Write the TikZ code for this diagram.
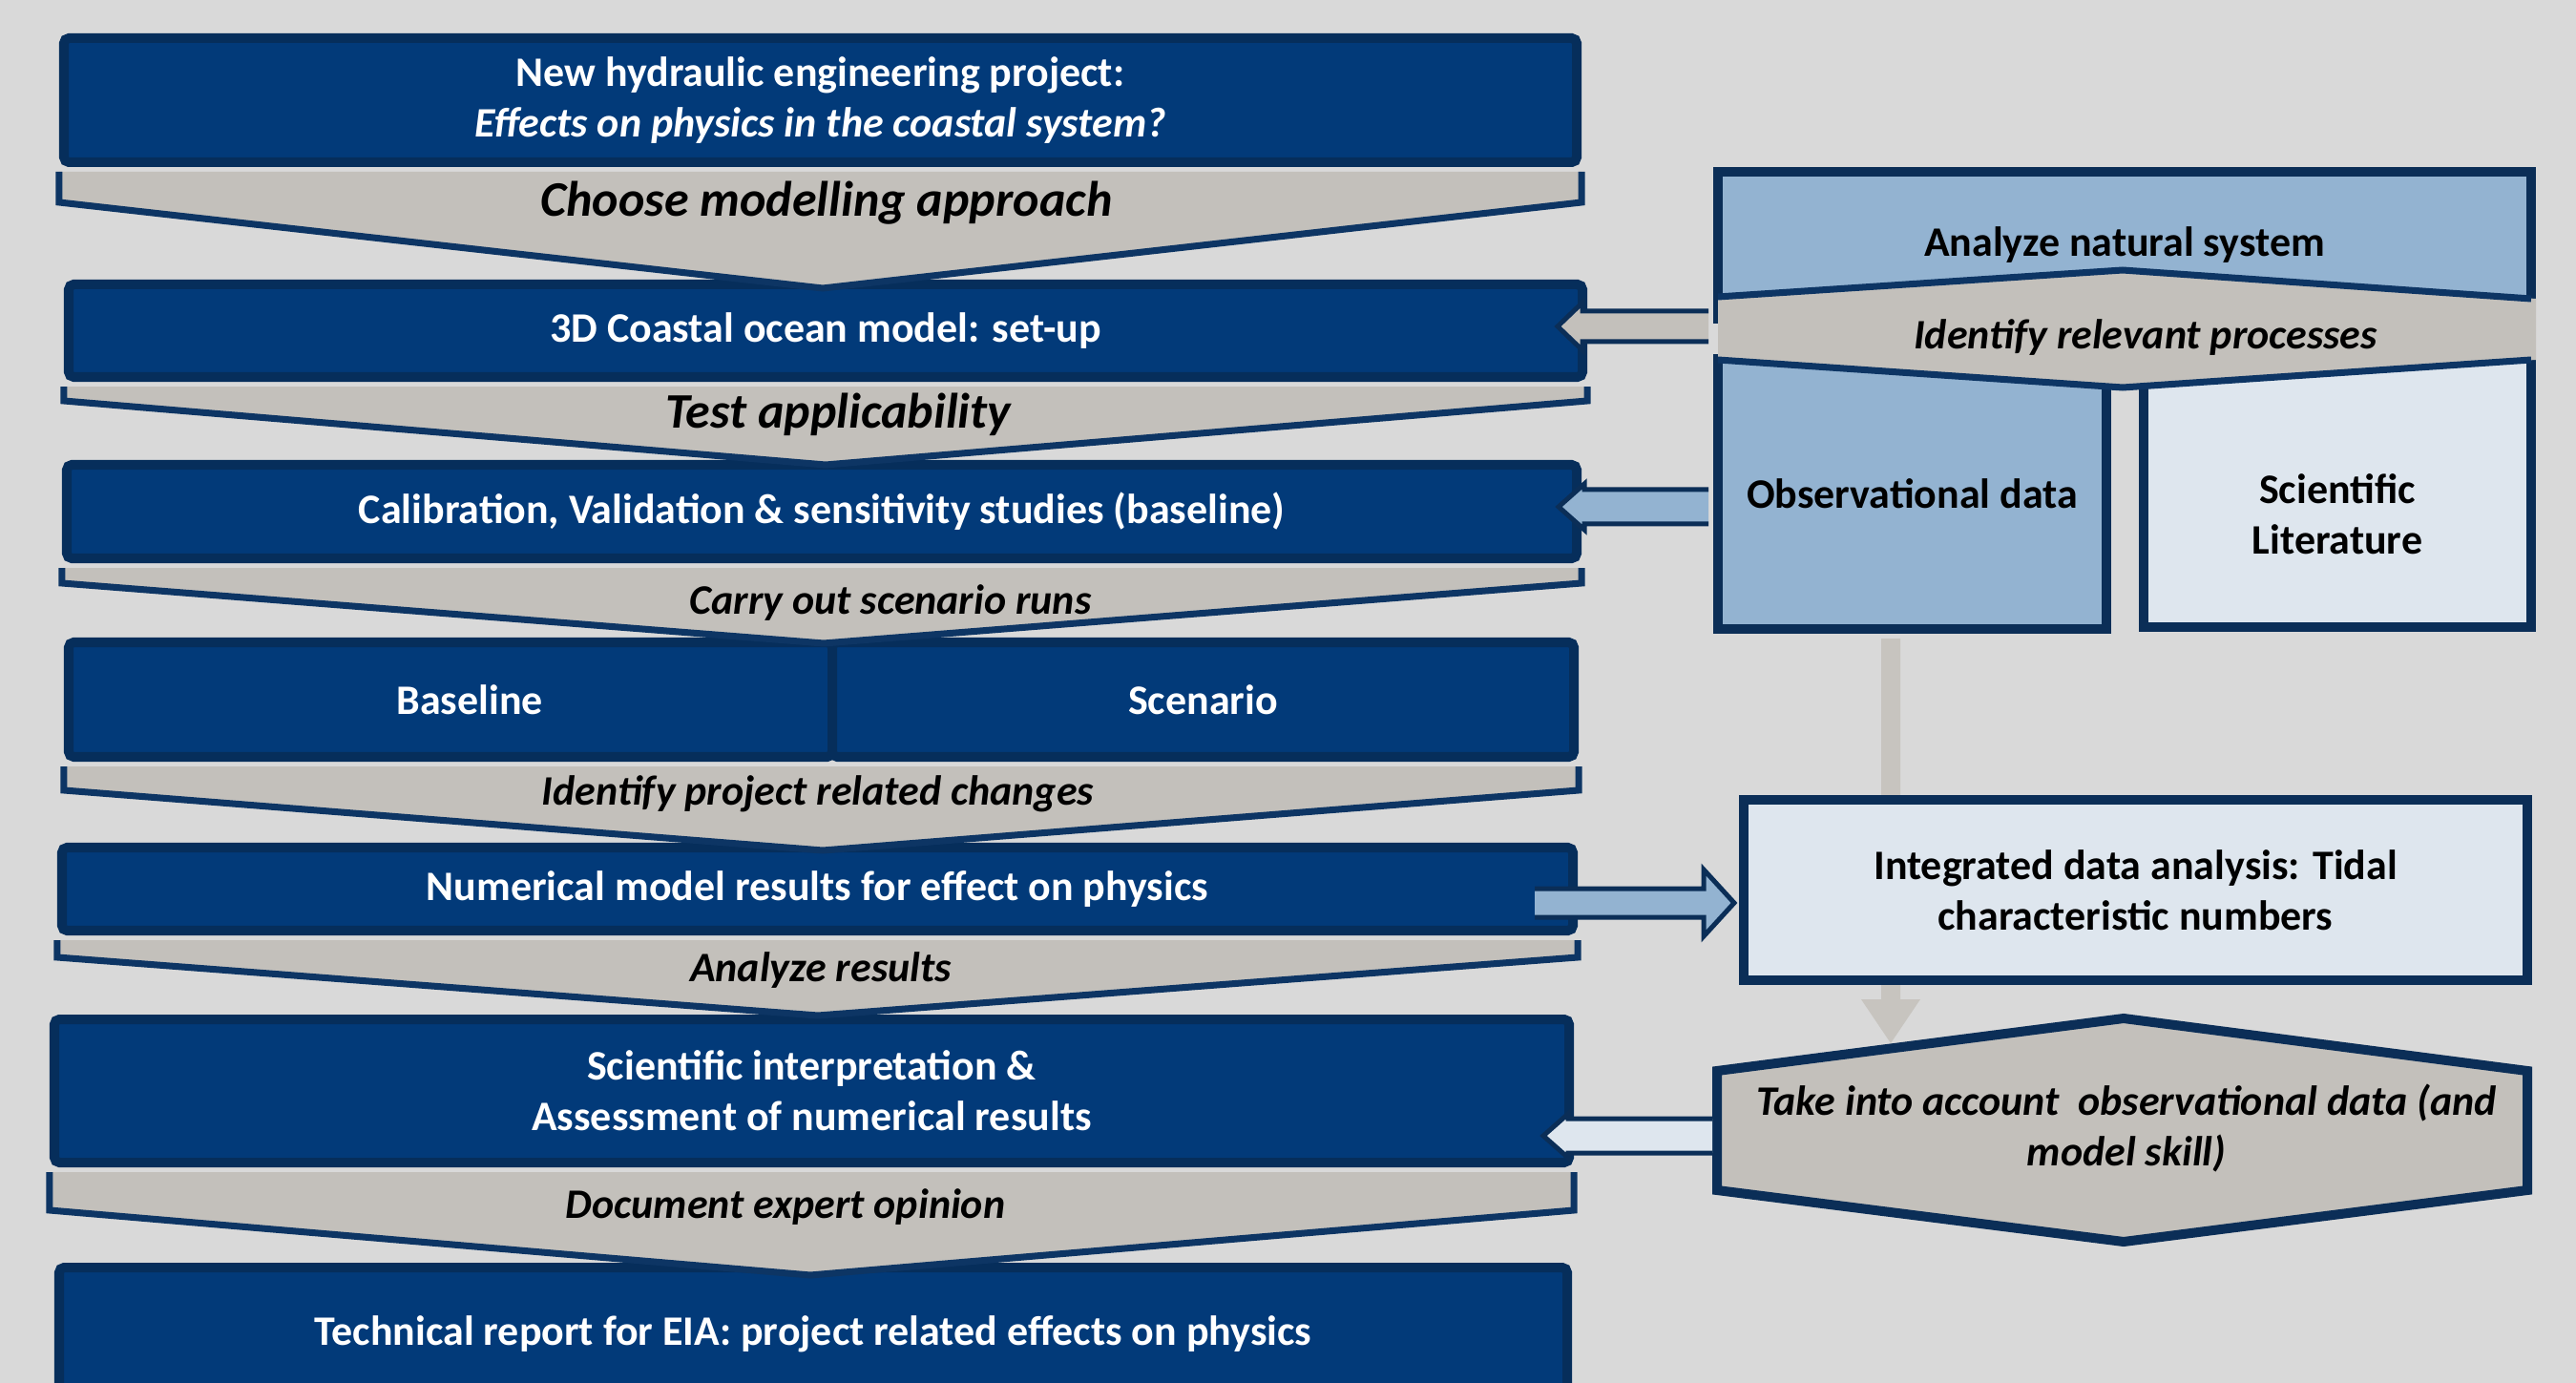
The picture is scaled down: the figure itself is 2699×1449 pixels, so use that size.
\documentclass[tikz,border=0pt]{standalone}
\usepackage{fontspec}
\setmainfont{Carlito}
\usetikzlibrary{calc}

\definecolor{bgc}{HTML}{D9D9D9}
\definecolor{boxfill}{HTML}{023A79}
\definecolor{boxline}{HTML}{062E5B}
\definecolor{chevfill}{HTML}{C3C0BB}
\definecolor{chevline}{HTML}{0D3564}
\definecolor{midblue}{HTML}{93B3D1}
\definecolor{paleblue}{HTML}{DEE6EE}
\definecolor{navy}{HTML}{0B2E57}
\definecolor{arrowgray}{HTML}{C7C4BF}

% chevron hanging below a box: left box, right box, shoulder drop, tip
\newcommand\chev[4]{%
  \coordinate (tl) at ($(#1.south west)+(0,5)$);
  \coordinate (tr) at ($(#2.south east)+(0,5)$);
  \fill[chevfill] (tl) -- ($(tl)+(0,#3)$) -- (#4) -- ($(tr)+(0,#3)$) -- (tr) -- cycle;
  \draw[chevedge] (tl) -- ($(tl)+(0,#3)$) -- (#4) -- ($(tr)+(0,#3)$) -- (tr);}

% horizontal block arrow: style, start, tip, shaft half, head half, head length (signed)
\newcommand\harrow[6]{%
  \path[#1] ($(#2)+(0,-#4)$) -- ($(#3)+(#6,-#4)$) -- ($(#3)+(#6,-#5)$) -- (#3)
    -- ($(#3)+(#6,#5)$) -- ($(#3)+(#6,#4)$) -- ($(#2)+(0,#4)$);}

\begin{document}
\begin{tikzpicture}[x=0.01cm,y=-0.01cm,
  sz/.style 2 args={minimum width=#1*0.01cm, minimum height=#2*0.01cm},
  mainfont/.style={font=\fontsize{12.5}{15.1}\selectfont\bfseries},
  bluebox/.style={draw=boxline, fill=boxfill, line width=0.1cm, rounded corners=1.5pt,
    text=white, mainfont, align=center, inner sep=0pt},
  chevedge/.style={draw=chevline, line width=0.07cm, line join=miter},
  steplabel/.style={text=black, font=\fontsize{12.5}{15.1}\selectfont\bfseries\itshape, inner sep=0pt},
  biglabel/.style={text=black, font=\fontsize{14.8}{17}\selectfont\bfseries\itshape, inner sep=0pt},
  sidebox/.style={draw=navy, line width=0.1cm, inner sep=0pt, align=center, text=black, mainfont},
  sidetext/.style={text=black, mainfont, align=center, inner sep=0pt},
  sideital/.style={text=black, font=\fontsize{12.5}{15.1}\selectfont\bfseries\itshape, align=center, inner sep=0pt},
  arrowedge/.style={draw=navy, line width=0.05cm, line join=miter}
]
\useasboundingbox (0,0) rectangle (2699,1449);
\fill[bgc] (0,0) rectangle (2699,1449);

% ---- main workflow boxes
\node[bluebox, sz={1585}{130}] (b1) at (859.5,105)
  {\rule{0pt}{9pt}New hydraulic engineering project:\\ \itshape Effects on physics in the coastal system?};
\node[bluebox, sz={1586}{97}] (b2) at (865,346.5) {3D Coastal ocean model: set-up};
\node[bluebox, sz={1582}{98}] (b3) at (861,536)
  {Calibration, Validation \& sensitivity studies (baseline)};
\node[bluebox, sz={800}{120}] (b4a) at (472,733) {\hspace*{0.4cm}Baseline};
\node[bluebox, sz={777}{120}] (b4b) at (1260.5,733) {Scenario};
\node[bluebox, sz={1583}{87}] (b5) at (856.5,931.5) {\rule{0pt}{9pt}Numerical model results for effect on physics};
\node[bluebox, sz={1587}{150}] (b6) at (850.5,1143)
  {Scientific interpretation \&\\Assessment of numerical results};
\node[bluebox, sz={1580}{140}] (b7) at (852,1398)
  {Technical report for EIA: project related effects on physics};

% ---- chevrons between the boxes
\chev{b1}{b1}{32}{862,302}
\chev{b2}{b2}{15}{865,487}
\chev{b3}{b3}{16}{863,674}
\chev{b4a}{b4b}{25}{862,891}
\chev{b5}{b5}{18}{857,1064}
\chev{b6}{b6}{40}{849,1336}

\node[biglabel] (l1) at (866,213) {Choose modelling approach};
\node[biglabel] (l2) at (878,434) {Test applicability};
\node[steplabel] (l3) at (933,632) {Carry out scenario runs};
\node[steplabel] (l4) at (857,832) {Identify project related changes};
\node[steplabel] (l5) at (860,1017) {Analyze results};
\node[steplabel] (l6) at (823,1265) {Document expert opinion};

% ---- natural system analysis
\node[sidebox, fill=midblue, sz={852}{154}] (nat) at (2226,257) {Analyze natural system};
\node[sidebox, fill=midblue, sz={407}{283}] (obs) at (2003.5,517.5) {Observational data};
\node[sidebox, fill=paleblue, sz={406}{281}] (lit) at (2449,516.5) {};
\node[sidetext] (littxt) at (2449,539) {Scientific\\Literature};
\fill[chevfill] (1800,311) -- (2224,283) -- (2657,313) -- (2657,377) -- (2224,406) -- (1800,377) -- cycle;
\draw[chevedge] (1800,311) -- (2224,283) -- (2652,313);
\draw[chevedge] (1800,377) -- (2224,406) -- (2652,377);
\node[sideital] (proc) at (2248,354) {Identify relevant processes};

% ---- observational data feeding the model skill check
\coordinate (a5t) at (1981,1093);
\fill[arrowgray] ($(obs.south -| a5t)+(-10,5)$) -- ($(a5t)+(-10,-46)$) -- ($(a5t)+(-31,-46)$)
  -- (a5t) -- ($(a5t)+(31,-46)$) -- ($(a5t)+(10,-46)$) -- ($(obs.south -| a5t)+(10,5)$) -- cycle;

\node[sidebox, fill=paleblue, sz={821}{189}] (integ) at (2237.5,932.5)
  {Integrated data analysis: Tidal\\characteristic numbers};

\coordinate (hexW) at (1799,1184.5);
\filldraw[fill=chevfill, draw=navy, line width=0.1cm, line join=miter]
  (hexW) -- (1799,1122) -- (2225,1067) -- (2648,1122) -- (2648,1247) -- (2225,1301) -- (1799,1247) -- cycle;
\node[sideital] (take) at (2228,1182)
  {Take into account~ observational data (and\\model skill)};

% ---- block arrows between the two columns
\coordinate (a1s) at ($(nat.west)+(-5,85)$);
\coordinate (a1t) at ($(b2.east |- a1s)+(-31,0)$);
\harrow{fill=chevfill, arrowedge}{a1s}{a1t}{16}{25}{26}

\coordinate (a2s) at ($(obs.west)+(-5,13.5)$);
\coordinate (a2t) at ($(b3.east |- a2s)+(-24,0)$);
\harrow{fill=midblue, arrowedge}{a2s}{a2t}{18}{24}{27}

\coordinate (a3t) at ($(integ.west)+(-5,13.5)$);
\coordinate (a3s) at ($(b5.east |- a3t)+(-45,0)$);
\harrow{fill=midblue, arrowedge}{a3s}{a3t}{15}{35}{-32}

\coordinate (a4s) at ($(hexW)+(-5,5.5)$);
\coordinate (a4t) at ($(b6.east |- a4s)+(-32,0)$);
\harrow{fill=paleblue, arrowedge}{a4s}{a4t}{18}{23}{26}
\end{tikzpicture}
\end{document}
